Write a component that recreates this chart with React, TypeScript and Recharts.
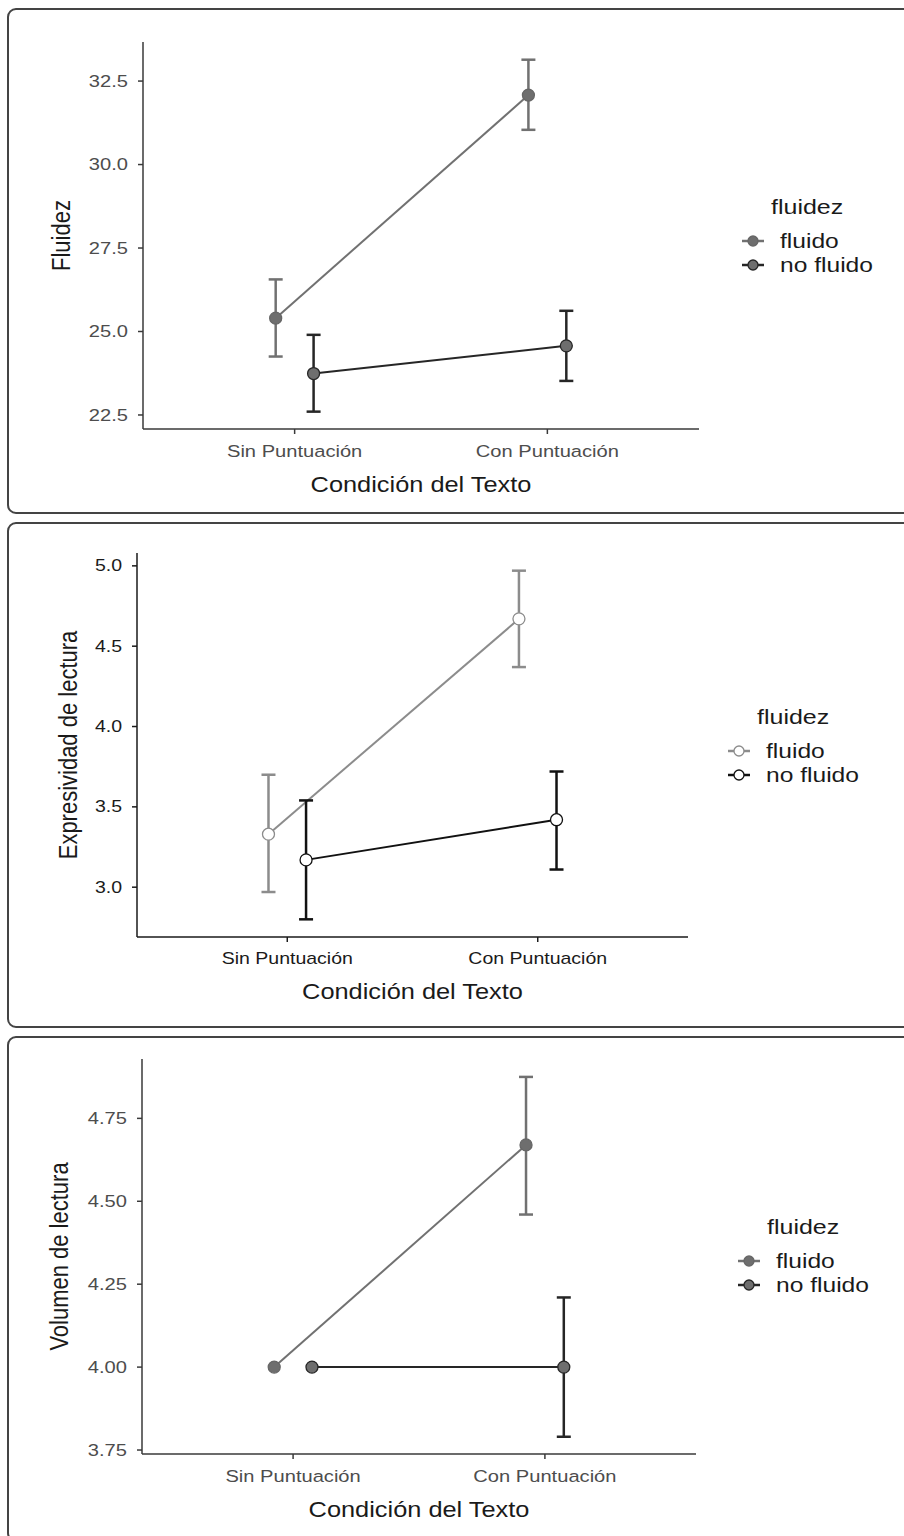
import { ErrorBar, Legend, Line, LineChart, XAxis, YAxis } from "recharts";

const categories = ["Sin Puntuación", "Con Puntuación"];

// Fluidez: media e intervalo por condición
const fluidezFluido = [25.4, 32.08];
const fluidezFluidoLow = [24.25, 31.04];
const fluidezFluidoHigh = [26.56, 33.14];
const fluidezNoFluido = [23.74, 24.57];
const fluidezNoFluidoLow = [22.6, 23.52];
const fluidezNoFluidoHigh = [24.9, 25.62];
const fluidezTicks = [22.5, 25, 27.5, 30, 32.5];

// Expresividad de lectura
const expFluido = [3.33, 4.67];
const expFluidoLow = [2.97, 4.37];
const expFluidoHigh = [3.7, 4.97];
const expNoFluido = [3.17, 3.42];
const expNoFluidoLow = [2.8, 3.11];
const expNoFluidoHigh = [3.54, 3.72];
const expTicks = [3.0, 3.5, 4.0, 4.5, 5.0];

// Volumen de lectura
const volFluido = [4.0, 4.67];
const volFluidoLow = [4.0, 4.46];
const volFluidoHigh = [4.0, 4.875];
const volNoFluido = [4.0, 4.0];
const volNoFluidoLow = [4.0, 3.79];
const volNoFluidoHigh = [4.0, 4.21];
const volTicks = [3.75, 4.0, 4.25, 4.5, 4.75];

const FONT = '"Liberation Sans", Arial, Helvetica, sans-serif';
const DODGE = 0.075;

// the source image is stretched sideways, so text gets a horizontal scale
function StretchText({ x, y, size, anchor, color, sx, rotate, children }: any) {
  const t = `translate(${x},${y}) scale(${sx},1)${rotate ? " rotate(-90)" : ""}`;
  return (
    <text
      transform={t}
      textAnchor={anchor}
      dominantBaseline="central"
      fontSize={size}
      fill={color}
      fontFamily={FONT}
    >
      {children}
    </text>
  );
}

function toRows(mean: number[], low: number[], high: number[], shift: number) {
  return categories.map((_, i) => ({
    x: i + 1 + shift,
    value: mean[i],
    err: high[i] > low[i] ? [mean[i] - low[i], high[i] - mean[i]] : null,
  }));
}

const greySeries = (rowsA: any[], rowsB: any[]) => [
  { name: "fluido", rows: rowsA, line: "#717171", dotFill: "#6e6e6e", dotStroke: "#666666" },
  { name: "no fluido", rows: rowsB, line: "#262626", dotFill: "#6e6e6e", dotStroke: "#262626" },
];

const panels = [
  {
    yLabel: "Fluidez",
    top: 9,
    height: 504,
    margin: { top: 33, right: 205, bottom: 14, left: 73 },
    domain: [22.08, 33.67],
    ticks: fluidezTicks,
    decimals: 1,
    tickColor: "#4d4d4d",
    tickSize: 16.5,
    axisColor: "#3a3a3a",
    yTitleGap: 82.5,
    xTitleGap: 56,
    legendLeft: 735,
    legendTop: 178,
    series: greySeries(
      toRows(fluidezFluido, fluidezFluidoLow, fluidezFluidoHigh, -DODGE),
      toRows(fluidezNoFluido, fluidezNoFluidoLow, fluidezNoFluidoHigh, DODGE)
    ),
  },
  {
    yLabel: "Expresividad de lectura",
    top: 522,
    height: 505,
    margin: { top: 31, right: 216, bottom: 20, left: 67 },
    domain: [2.69, 5.08],
    ticks: expTicks,
    decimals: 1,
    tickColor: "#1a1a1a",
    tickSize: 16,
    axisColor: "#1a1a1a",
    yTitleGap: 69,
    xTitleGap: 55,
    legendLeft: 721,
    legendTop: 175,
    series: [
      {
        name: "fluido",
        rows: toRows(expFluido, expFluidoLow, expFluidoHigh, -DODGE),
        line: "#8c8c8c",
        dotFill: "#ffffff",
        dotStroke: "#8c8c8c",
      },
      {
        name: "no fluido",
        rows: toRows(expNoFluido, expNoFluidoLow, expNoFluidoHigh, DODGE),
        line: "#111111",
        dotFill: "#ffffff",
        dotStroke: "#111111",
      },
    ],
  },
  {
    yLabel: "Volumen de lectura",
    top: 1037,
    height: 499,
    margin: { top: 22, right: 208, bottom: 12, left: 72 },
    domain: [3.738, 4.929],
    ticks: volTicks,
    decimals: 2,
    tickColor: "#4d4d4d",
    tickSize: 16.5,
    axisColor: "#3a3a3a",
    yTitleGap: 82.7,
    xTitleGap: 56,
    legendLeft: 731,
    legendTop: 170,
    series: greySeries(
      toRows(volFluido, volFluidoLow, volFluidoHigh, -DODGE),
      toRows(volNoFluido, volNoFluidoLow, volNoFluidoHigh, DODGE)
    ),
  },
];

function PanelLegend({ payload, series }: any) {
  const items = (payload ?? []).map((entry: any) => series.find((s: any) => s.name === entry.value)).filter(Boolean);
  return (
    <svg width={200} height={100}>
      <StretchText x={36} y={20} size={20} anchor="start" color="#1a1a1a" sx={1.25}>
        fluidez
      </StretchText>
      {items.map((s: any, i: number) => {
        const y = 54 + i * 24;
        return (
          <g key={s.name}>
            <line x1={7} x2={29} y1={y} y2={y} stroke={s.line} strokeWidth={2.5} />
            <circle cx={18} cy={y} r={5} fill={s.dotFill} stroke={s.dotStroke} strokeWidth={1.3} />
            <StretchText x={45} y={y} size={20.5} anchor="start" color="#1a1a1a" sx={1.2}>
              {s.name}
            </StretchText>
          </g>
        );
      })}
    </svg>
  );
}

function Panel({ p }: any) {
  return (
    <div style={{ position: "absolute", left: 0, top: p.top }}>
      <LineChart width={904} height={p.height} margin={p.margin}>
        <XAxis
          type="number"
          dataKey="x"
          domain={[0.4, 2.6]}
          ticks={[1, 2]}
          allowDataOverflow
          height={70}
          stroke={p.axisColor}
          strokeWidth={1.5}
          tickSize={5}
          tickMargin={17}
          tickLine={{ stroke: p.axisColor, strokeWidth: 1.5 }}
          tick={(t: any) => (
            <StretchText x={t.x} y={t.y} size={p.tickSize} anchor="middle" color={p.tickColor} sx={1.22}>
              {categories[Math.round(t.payload.value) - 1]}
            </StretchText>
          )}
          label={{
            value: "Condición del Texto",
            content: (l: any) => (
              <StretchText
                x={l.viewBox.x + l.viewBox.width / 2}
                y={l.viewBox.y + p.xTitleGap}
                size={21.5}
                anchor="middle"
                color="#1a1a1a"
                sx={1.18}
              >
                Condición del Texto
              </StretchText>
            ),
          }}
        />
        <YAxis
          type="number"
          domain={p.domain}
          ticks={p.ticks}
          allowDataOverflow
          width={70}
          stroke={p.axisColor}
          strokeWidth={1.5}
          tickSize={5}
          tickMargin={10}
          tickLine={{ stroke: p.axisColor, strokeWidth: 1.5 }}
          tick={(t: any) => (
            <StretchText x={t.x} y={t.y} size={p.tickSize} anchor="end" color={p.tickColor} sx={1.22}>
              {Number(t.payload.value).toFixed(p.decimals)}
            </StretchText>
          )}
          label={{
            value: p.yLabel,
            content: (l: any) => (
              <StretchText
                x={l.viewBox.x + l.viewBox.width - p.yTitleGap}
                y={l.viewBox.y + l.viewBox.height / 2}
                size={22}
                anchor="middle"
                color="#1a1a1a"
                sx={1.18}
                rotate
              >
                {p.yLabel}
              </StretchText>
            ),
          }}
        />
        <Legend
          layout="vertical"
          align="center"
          verticalAlign="middle"
          wrapperStyle={{ left: p.legendLeft, top: p.legendTop, width: 200 }}
          content={(props: any) => <PanelLegend payload={props.payload} series={p.series} />}
        />
        {p.series.map((s: any) => (
          <Line
            key={s.name}
            name={s.name}
            data={s.rows}
            dataKey="value"
            type="linear"
            stroke={s.line}
            strokeWidth={2}
            dot={{ r: 6, fill: s.dotFill, stroke: s.dotStroke, strokeWidth: 1.3 }}
            activeDot={false}
            isAnimationActive={false}
          >
            <ErrorBar dataKey="err" direction="y" width={7} stroke={s.line} strokeWidth={2.5} />
          </Line>
        ))}
      </LineChart>
    </div>
  );
}

export default function App() {
  const boxes = [8, 522, 1036];
  return (
    <div
      style={{
        position: "absolute",
        left: 0,
        top: 0,
        width: 904,
        height: 1536,
        overflow: "hidden",
        background: "#ffffff",
        fontFamily: FONT,
      }}
    >
      {boxes.map((top) => (
        <div
          key={top}
          style={{
            position: "absolute",
            left: 7,
            top,
            width: 940,
            height: 506,
            boxSizing: "border-box",
            border: "2px solid #444444",
            borderRadius: 9,
          }}
        />
      ))}
      {panels.map((p) => (
        <Panel key={p.yLabel} p={p} />
      ))}
    </div>
  );
}
